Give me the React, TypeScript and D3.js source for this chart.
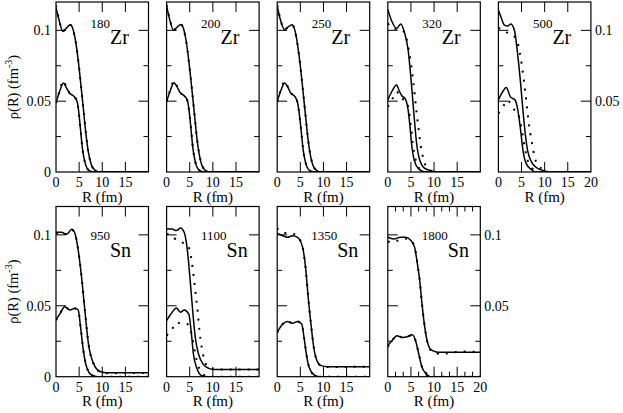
import React from 'react';
import * as d3 from 'd3';

type Pt = [number, number];

// ---------- data: R (fm), rho (fm^-3) ----------
const zr180UpperSolid: Pt[] = [[0,0.116],[0.6,0.108],[1.5,0.0992],[2.2,0.1015],[3.1,0.104],[3.7,0.1005],[4.2,0.093],[4.8,0.079],[5.4,0.061],[6.0,0.042],[6.5,0.026],[7.0,0.014],[7.6,0.0055],[8.4,0.0013],[9.5,0],[20,0]];
const zr180LowerSolid: Pt[] = [[0,0.0488],[0.8,0.057],[1.6,0.0628],[2.2,0.0598],[2.9,0.0558],[3.8,0.0536],[4.5,0.0505],[4.9,0.043],[5.3,0.030],[5.7,0.017],[6.2,0.0075],[6.8,0.0022],[7.6,0.0003],[8.5,0],[20,0]];
const zr180UpperDot: Pt[] = [[0,0.1175],[0.6,0.1085],[1.5,0.0995],[2.2,0.1015],[3.1,0.1038],[3.7,0.1003],[4.2,0.0928],[4.8,0.079],[5.4,0.0612],[6.0,0.0422],[6.5,0.0262],[7.0,0.0142],[7.6,0.0056],[8.4,0.0014],[9.5,0],[20,0]];
const zr180LowerDot: Pt[] = [[0,0.0485],[0.8,0.0575],[1.6,0.0645],[2.2,0.0602],[2.9,0.056],[3.8,0.0535],[4.5,0.0503],[4.9,0.0428],[5.3,0.030],[5.7,0.017],[6.2,0.0076],[6.8,0.0023],[7.6,0.0003],[8.5,0],[20,0]];

const zr200UpperSolid: Pt[] = [[0,0.1172],[0.6,0.1085],[1.5,0.1],[2.2,0.102],[3.1,0.1042],[3.7,0.1008],[4.2,0.093],[4.8,0.0785],[5.4,0.0605],[6.0,0.0415],[6.5,0.0255],[7.0,0.0135],[7.6,0.005],[8.4,0.0012],[9.5,0],[20,0]];
const zr200LowerSolid: Pt[] = [[0,0.0497],[0.8,0.0575],[1.6,0.063],[2.2,0.0605],[2.9,0.0562],[3.8,0.0538],[4.5,0.0505],[4.9,0.0425],[5.3,0.0295],[5.7,0.0165],[6.2,0.0072],[6.8,0.0021],[7.6,0.0003],[8.5,0],[20,0]];
const zr200UpperDot: Pt[] = [[0,0.118],[0.6,0.109],[1.5,0.1002],[2.2,0.102],[3.1,0.104],[3.7,0.1006],[4.2,0.0928],[4.8,0.0785],[5.4,0.0607],[6.0,0.0417],[6.5,0.0257],[7.0,0.0137],[7.6,0.0052],[8.4,0.0013],[9.5,0],[20,0]];
const zr200LowerDot: Pt[] = [[0,0.0495],[0.8,0.058],[1.6,0.0642],[2.2,0.061],[2.9,0.0563],[3.8,0.0537],[4.5,0.0503],[4.9,0.0424],[5.3,0.0296],[5.7,0.0166],[6.2,0.0073],[6.8,0.0022],[7.6,0.0003],[8.5,0],[20,0]];

const zr250UpperSolid: Pt[] = [[0,0.1174],[0.6,0.1085],[1.6,0.1005],[2.3,0.1022],[3.2,0.104],[3.8,0.1003],[4.3,0.092],[4.9,0.0775],[5.5,0.0595],[6.1,0.0405],[6.6,0.025],[7.1,0.0132],[7.7,0.005],[8.5,0.0012],[9.5,0],[20,0]];
const zr250LowerSolid: Pt[] = [[0,0.0497],[0.8,0.0575],[1.6,0.0628],[2.2,0.0605],[2.9,0.0558],[3.8,0.0534],[4.4,0.049],[4.8,0.0405],[5.2,0.0285],[5.6,0.016],[6.1,0.007],[6.7,0.002],[7.5,0.0003],[8.5,0],[20,0]];
const zr250UpperDot: Pt[] = [[0,0.1178],[0.6,0.109],[1.6,0.1006],[2.3,0.1022],[3.2,0.1039],[3.8,0.1002],[4.3,0.0918],[4.9,0.0775],[5.5,0.0597],[6.1,0.0407],[6.6,0.0252],[7.1,0.0134],[7.7,0.0051],[8.5,0.0013],[9.5,0],[20,0]];
const zr250LowerDot: Pt[] = [[0,0.0495],[0.8,0.058],[1.6,0.064],[2.2,0.0608],[2.9,0.0559],[3.8,0.0533],[4.4,0.0488],[4.8,0.0405],[5.2,0.0286],[5.6,0.0162],[6.1,0.0071],[6.7,0.0021],[7.5,0.0003],[8.5,0],[20,0]];

const zr320UpperSolid: Pt[] = [[0,0.1148],[0.8,0.107],[1.9,0.1014],[2.8,0.1045],[3.6,0.0985],[4.4,0.086],[5.1,0.0626],[5.7,0.039],[6.2,0.021],[6.9,0.0085],[8.0,0.0026],[9.5,0.0008],[10.5,0],[20,0]];
const zr320UpperDot: Pt[] = [[0,0.105],[0.8,0.102],[1.5,0.101],[2.5,0.101],[3.5,0.099],[4.4,0.089],[5.0,0.077],[5.5,0.064],[5.9,0.052],[6.3,0.04],[6.7,0.029],[7.1,0.019],[7.5,0.012],[8.0,0.006],[8.8,0.002],[10,0.0003],[11,0],[20,0]];
const zr320LowerSolid: Pt[] = [[0,0.0508],[0.9,0.057],[1.9,0.0614],[2.5,0.057],[3.0,0.054],[3.8,0.0515],[4.4,0.0437],[4.8,0.032],[5.1,0.021],[5.7,0.0085],[6.6,0.0024],[8,0],[20,0]];
const zr320LowerDot: Pt[] = [[0,0.046],[0.9,0.051],[1.9,0.0567],[2.8,0.052],[3.7,0.0508],[4.4,0.046],[5.0,0.032],[5.4,0.020],[5.85,0.011],[6.4,0.005],[7.1,0.0014],[8,0],[20,0]];

const zr500UpperSolid: Pt[] = [[0,0.1143],[0.6,0.109],[1.3,0.1037],[2.0,0.103],[2.7,0.1045],[3.5,0.0995],[4.1,0.085],[4.8,0.0626],[5.3,0.0438],[5.8,0.027],[6.3,0.0155],[7.1,0.0075],[8.2,0.0032],[10,0.0008],[11,0],[20,0]];
const zr500UpperDot: Pt[] = [[0,0.1014],[1.0,0.101],[2.0,0.098],[3.5,0.0955],[4.3,0.0896],[4.9,0.079],[5.5,0.065],[6.0,0.0508],[6.4,0.039],[6.9,0.0273],[7.4,0.018],[7.8,0.011],[8.5,0.005],[9.6,0.002],[11,0],[20,0]];
const zr500LowerSolid: Pt[] = [[0,0.0508],[0.8,0.056],[1.7,0.0597],[2.6,0.053],[3.6,0.0508],[4.2,0.0437],[4.8,0.0296],[5.3,0.0155],[6.0,0.0061],[7.1,0.0018],[8,0],[20,0]];
const zr500LowerDot: Pt[] = [[0,0.0414],[1.0,0.046],[2.0,0.0508],[3.1,0.045],[4.2,0.0414],[4.8,0.0343],[5.3,0.025],[5.8,0.0155],[6.3,0.0085],[7.1,0.0035],[8.5,0],[20,0]];

const sn950UpperSolid: Pt[] = [[0,0.1018],[1.2,0.1018],[2.3,0.1004],[3.4,0.1039],[4.1,0.101],[4.8,0.0893],[5.6,0.068],[6.3,0.0447],[7.0,0.0235],[8.1,0.0094],[9.5,0.0037],[11,0.0028],[20,0.0028]];
const sn950LowerSolid: Pt[] = [[0,0.040],[0.9,0.0447],[1.9,0.0494],[3.0,0.047],[4.1,0.0482],[4.8,0.047],[5.3,0.0353],[5.9,0.0188],[6.6,0.007],[7.7,0.0012],[9,0],[20,0]];
const sn950UpperDot: Pt[] = [[0,0.1012],[1.2,0.1016],[2.3,0.1006],[3.4,0.1036],[4.1,0.1008],[4.8,0.0895],[5.6,0.0683],[6.3,0.045],[7.0,0.0238],[8.1,0.0094],[9.5,0.0036],[11,0.0025],[20,0.0026]];
const sn950LowerDot: Pt[] = [[0,0.0398],[0.9,0.0447],[1.9,0.0492],[3.0,0.047],[4.1,0.048],[4.8,0.0468],[5.3,0.0355],[5.9,0.019],[6.6,0.0071],[7.7,0.0012],[9,0],[20,0]];

const sn1100UpperSolid: Pt[] = [[0,0.1041],[1.2,0.1041],[2.1,0.103],[3.0,0.1048],[3.8,0.1018],[4.5,0.0889],[5.1,0.0677],[5.7,0.0442],[6.2,0.0277],[6.9,0.016],[7.9,0.0089],[9.1,0.0059],[10.5,0.005],[20,0.005]];
const sn1100UpperDot: Pt[] = [[0,0.1006],[1.2,0.0994],[2.2,0.0959],[3.3,0.0947],[4.6,0.0926],[5.3,0.0842],[5.7,0.0748],[6.2,0.0606],[6.7,0.0465],[7.1,0.0324],[7.6,0.0207],[8.1,0.0125],[8.7,0.0078],[9.8,0.0054],[11,0.005],[20,0.005]];
const sn1100LowerSolid: Pt[] = [[0,0.0395],[1.2,0.0454],[2.1,0.0484],[3.0,0.0454],[3.8,0.047],[4.8,0.0442],[5.3,0.0324],[5.8,0.016],[6.6,0.0054],[7.6,0.0007],[9,0],[20,0]];
const sn1100LowerDot: Pt[] = [[0,0.029],[1.2,0.0336],[2.2,0.0383],[3.3,0.0371],[4.4,0.0371],[5.1,0.0336],[5.7,0.0254],[6.2,0.016],[6.7,0.0089],[7.3,0.0042],[8.4,0.0007],[9.5,0],[20,0]];

const sn1350UpperSolid: Pt[] = [[0,0.1011],[1.2,0.0994],[2.2,0.0983],[3.3,0.0994],[4.4,0.0983],[5.5,0.0912],[6.2,0.0748],[6.7,0.056],[7.3,0.0371],[7.9,0.0207],[8.6,0.0113],[9.5,0.0078],[10.9,0.0071],[20,0.0071]];
const sn1350UpperDot: Pt[] = [[0,0.1048],[0.9,0.1018],[2.2,0.1011],[3.7,0.1004],[4.6,0.098],[5.5,0.0914],[6.2,0.0748],[6.7,0.0562],[7.3,0.0373],[7.9,0.0208],[8.6,0.0112],[9.5,0.0077],[10.9,0.0069],[20,0.007]];
const sn1350LowerSolid: Pt[] = [[0,0.0313],[1.2,0.0371],[2.2,0.039],[3.3,0.0376],[4.4,0.039],[5.3,0.0371],[5.8,0.0277],[6.3,0.016],[6.9,0.0066],[7.9,0.0014],[9,0],[20,0]];
const sn1350LowerDot: Pt[] = [[0,0.0312],[1.2,0.0372],[2.2,0.0392],[3.3,0.0377],[4.4,0.0389],[5.3,0.037],[5.8,0.0278],[6.3,0.0161],[6.9,0.0067],[7.9,0.0014],[9,0],[20,0]];

const sn1800UpperSolid: Pt[] = [[0,0.0983],[1.3,0.0971],[2.7,0.0983],[3.8,0.0983],[4.9,0.0964],[5.8,0.0912],[6.3,0.0818],[6.9,0.0677],[7.4,0.0512],[7.9,0.0371],[8.5,0.0254],[9.2,0.0195],[10.3,0.0176],[11.4,0.0172],[20,0.0172]];
const sn1800UpperDot: Pt[] = [[0,0.0954],[0.9,0.0947],[2.0,0.0958],[3.5,0.0975],[4.9,0.0962],[5.8,0.0912],[6.3,0.082],[6.9,0.068],[7.4,0.0514],[7.9,0.0372],[8.5,0.0252],[9.2,0.0188],[10.3,0.0163],[12,0.0162],[15,0.0175],[17,0.0178],[20,0.0172]];
const sn1800LowerSolid: Pt[] = [[0,0.0219],[0.9,0.0254],[2.0,0.0289],[3.1,0.0277],[4.2,0.0282],[5.3,0.0296],[6.0,0.0254],[6.7,0.016],[7.4,0.0066],[8.2,0.0024],[9.2,0],[20,0]];
const sn1800LowerDot: Pt[] = [[0,0.021],[0.9,0.0252],[2.0,0.029],[3.1,0.0278],[4.2,0.0282],[5.3,0.0295],[6.0,0.0255],[6.7,0.0161],[7.4,0.0067],[8.2,0.0024],[9.2,0],[20,0]];

const massNumbers = ['180', '200', '250', '320', '500', '950', '1100', '1350', '1800'];
const elements = ['Zr', 'Zr', 'Zr', 'Zr', 'Zr', 'Sn', 'Sn', 'Sn', 'Sn'];
const solidSeries: Pt[][][] = [
  [zr180UpperSolid, zr180LowerSolid],
  [zr200UpperSolid, zr200LowerSolid],
  [zr250UpperSolid, zr250LowerSolid],
  [zr320UpperSolid, zr320LowerSolid],
  [zr500UpperSolid, zr500LowerSolid],
  [sn950UpperSolid, sn950LowerSolid],
  [sn1100UpperSolid, sn1100LowerSolid],
  [sn1350UpperSolid, sn1350LowerSolid],
  [sn1800UpperSolid, sn1800LowerSolid],
];
const dottedSeries: Pt[][][] = [
  [zr180UpperDot, zr180LowerDot],
  [zr200UpperDot, zr200LowerDot],
  [zr250UpperDot, zr250LowerDot],
  [zr320UpperDot, zr320LowerDot],
  [zr500UpperDot, zr500LowerDot],
  [sn950UpperDot, sn950LowerDot],
  [sn1100UpperDot, sn1100LowerDot],
  [sn1350UpperDot, sn1350LowerDot],
  [sn1800UpperDot, sn1800LowerDot],
];

const xDomain: [number, number] = [0, 20];
const yDomain: [number, number] = [0, 0.12];
const xMajorTicks = [0, 5, 10, 15, 20];
const xTickLabels = ['0', '5', '10', '15', '20'];
const yMajorTicks = [0, 0.05, 0.1];
const yTickLabels = ['0', '0.05', '0.1'];
const yMinorTicks = [0.025, 0.075];
const xLabel = 'R (fm)';

// ---------- layout ----------
const W = 623;
const H = 413;
const rowTop = [2, 206.5];
const rowBottom = [172, 376.7];
const colLeft = [56, 166.6, 277.2, 387.8, 498.4];
const panelW = 92.5;
const panelsPerRow = [5, 4];
const FONT = "'Liberation Serif', monospace";
const txt: React.CSSProperties = { fontFamily: FONT };

export default function App() {
  const panels = massNumbers.map((m, i) => {
    const row = i < 5 ? 0 : 1;
    const col = row === 0 ? i : i - 5;
    return { i, m, el: elements[i], row, col, last: col === panelsPerRow[row] - 1 };
  });

  return (
    <svg width={W} height={H} viewBox={`0 0 ${W} ${H}`}
      style={{ position: 'absolute', left: 0, top: 0, background: '#fff' }}>
      <style>{`text { font-family: 'Liberation Serif', monospace; }`}</style>
      <defs>
        {panels.map(p => (
          <clipPath id={`clip${p.i}`} key={p.i}>
            <rect x={colLeft[p.col]} y={rowTop[p.row]} width={panelW} height={rowBottom[p.row] - rowTop[p.row]} />
          </clipPath>
        ))}
      </defs>
      {panels.map(p => {
        const left = colLeft[p.col];
        const right = left + panelW;
        const top = rowTop[p.row];
        const bottom = rowBottom[p.row];
        const x = d3.scaleLinear().domain(xDomain).range([left, right]);
        const y = d3.scaleLinear().domain(yDomain).range([bottom, top]);
        const line = d3.line<Pt>().x(d => x(d[0])).y(d => y(d[1])).curve(d3.curveMonotoneX);
        const elX = left + (p.m.length > 3 ? 60 : 54);
        const massBase = top + (p.row === 0 ? 25.5 : 33.5);
        const elBase = top + (p.row === 0 ? 42 : 50.5);
        const xMinor = p.i === 8 ? d3.range(1, 12).map(k => k * 5 / 3).filter(v => Math.abs(v / 5 - Math.round(v / 5)) > 0.01) : [];
        return (
          <g key={p.i}>
            <g clipPath={`url(#clip${p.i})`}>
              {dottedSeries[p.i].map((s, k) => (
                <path key={`d${k}`} d={line(s) || ''} fill="none" stroke="#000" strokeWidth={2} strokeDasharray="2 7" />
              ))}
              {solidSeries[p.i].map((s, k) => (
                <path key={`s${k}`} d={line(s) || ''} fill="none" stroke="#000" strokeWidth={1.5} />
              ))}
            </g>
            <rect x={left} y={top} width={panelW} height={bottom - top} fill="none" stroke="#000" strokeWidth={1.2} />
            {xMajorTicks.slice(1, 4).map(t => (
              <g key={`xt${t}`}>
                <line x1={x(t)} x2={x(t)} y1={bottom} y2={bottom - 10} stroke="#000" strokeWidth={1} />
                <line x1={x(t)} x2={x(t)} y1={top} y2={top + 10} stroke="#000" strokeWidth={1} />
              </g>
            ))}
            {xMinor.map(t => (
              <g key={`xm${t}`}>
                <line x1={x(t)} x2={x(t)} y1={bottom} y2={bottom - 5} stroke="#000" strokeWidth={1} />
                <line x1={x(t)} x2={x(t)} y1={top} y2={top + 5} stroke="#000" strokeWidth={1} />
              </g>
            ))}
            {yMajorTicks.slice(1).map(t => (
              <g key={`yt${t}`}>
                <line x1={left} x2={left + 10} y1={y(t)} y2={y(t)} stroke="#000" strokeWidth={1} />
                <line x1={right} x2={right - 10} y1={y(t)} y2={y(t)} stroke="#000" strokeWidth={1} />
              </g>
            ))}
            {yMinorTicks.map(t => (
              <g key={`ym${t}`}>
                <line x1={left} x2={left + 5} y1={y(t)} y2={y(t)} stroke="#000" strokeWidth={1} />
                <line x1={right} x2={right - 5} y1={y(t)} y2={y(t)} stroke="#000" strokeWidth={1} />
              </g>
            ))}
            {xMajorTicks.map((t, k) => (k < 4 || p.last) ? (
              <text key={`xl${t}`} style={txt} fontFamily="Liberation Serif" x={x(t)} y={bottom + 15} fontSize={14} textAnchor="middle">{xTickLabels[k]}</text>
            ) : null)}
            <text style={txt} fontFamily="Liberation Serif" x={(left + right) / 2} y={bottom + 29.5} fontSize={15} textAnchor="middle">{xLabel}</text>
            {p.col === 0 && yMajorTicks.map((t, k) => (
              <text key={`yl${t}`} style={txt} fontFamily="Liberation Serif" x={left - 5} y={y(t) + 5} fontSize={14} textAnchor="end">{yTickLabels[k]}</text>
            ))}
            {p.last && yMajorTicks.slice(1).map((t, k) => (
              <text key={`yr${t}`} style={txt} fontFamily="Liberation Serif" x={right + 4} y={y(t) + 5} fontSize={14} textAnchor="start">{yTickLabels[k + 1]}</text>
            ))}
            <text style={txt} fontFamily="Liberation Serif" x={elX} y={massBase} fontSize={13} textAnchor="end">{p.m}</text>
            <text style={txt} fontFamily="Liberation Serif" x={elX} y={elBase} fontSize={20}>{p.el}</text>
          </g>
        );
      })}
      {[0, 1].map(r => (
        <text key={`yl${r}`} style={txt} fontFamily="Liberation Serif" transform={`translate(18,${(rowTop[r] + rowBottom[r]) / 2}) rotate(-90)`} fontSize={14.5} textAnchor="middle">
          ρ(R) (fm<tspan dy={-6} fontSize={10}>-3</tspan><tspan dy={6}>)</tspan>
        </text>
      ))}
    </svg>
  );
}
